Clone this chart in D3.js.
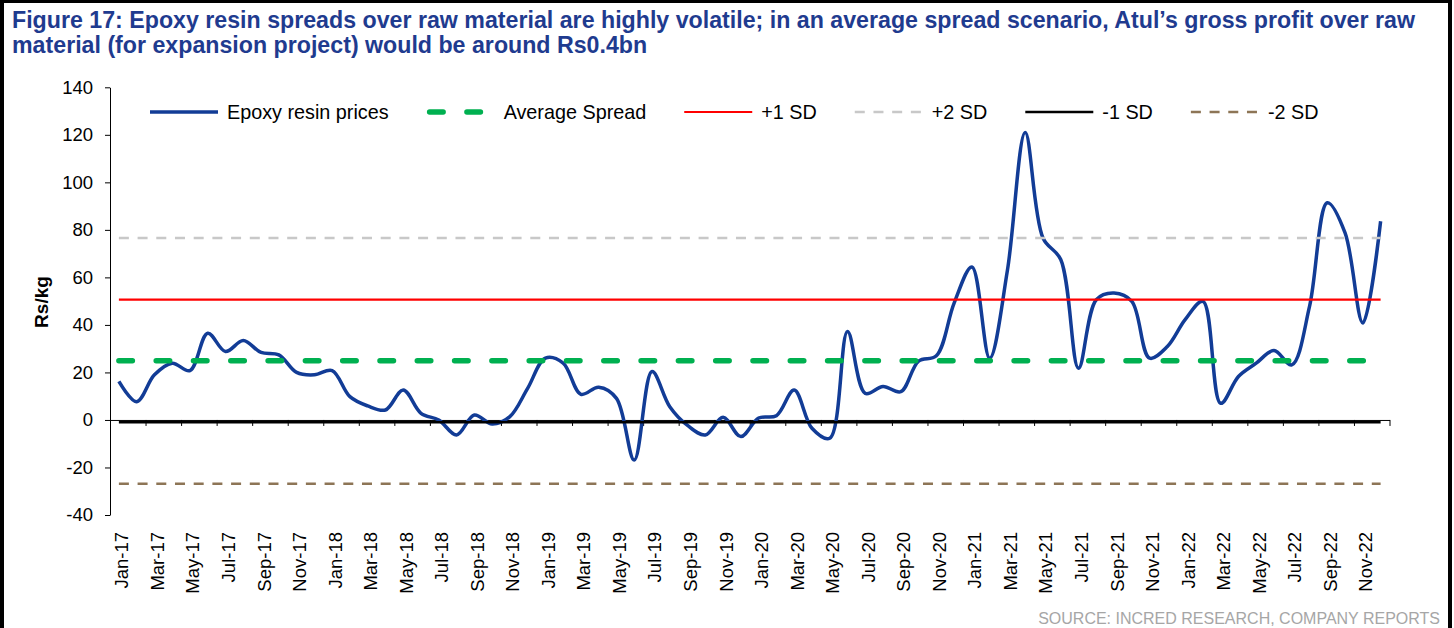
<!DOCTYPE html>
<html lang="en">
<head>
<meta charset="utf-8">
<title>Figure 17</title>
<script src="https://d3js.org/d3.v7.min.js"></script>
<style>
  body { margin: 0; background: #fff; }
  svg { display: block; font-family: "Liberation Sans", Arial, sans-serif; }
</style>
</head>
<body>
<script>

// ---- data ----
var months = d3.timeMonths(new Date(2017, 0, 1), new Date(2023, 0, 1)).map(d3.timeFormat("%b-%y"));

var spread = [
  16.2, 7.7, 19, 23.9, 20.8, 36.5, 28.8, 33.4, 28.4, 27.4, 20, 19,     // 2017
  20.8, 9.8, 5.9, 4.2, 12.6, 2.8, 0, -6.3, 2.1, -1.7, 1.4, 13.3,       // 2018
  26, 23.9, 10.8, 13.8, 9.1, -16.9, 20.4, 5.6, -2.3, -6.3, 1.1, -7,    // 2019
  0.8, 1.8, 12.6, -3.5, -7.7, 37.2, 11.2, 14.1, 11.9, 24.8, 27, 49.2,  // 2020
  64.4, 26, 63, 121, 76.6, 67.5, 21.8, 50.6, 53.4, 49.9, 26, 30.9,     // 2021
  42.2, 49.9, 7, 18.3, 23.9, 29.2, 23.2, 47.8, 91.4, 78.7, 40.8, 83.6  // 2022
];

var refNames  = ["Average Spread", "+1 SD", "+2 SD", "-1 SD", "-2 SD"];
var refValues = [24.9, 50.6, 76.6, -1.0, -26.9];

var yTicks = [-40, -20, 0, 20, 40, 60, 80, 100, 120, 140];

var title1 = "Figure 17: Epoxy resin spreads over raw material are highly volatile; in an average spread scenario, Atul\u2019s gross profit over raw";
var title2 = "material (for expansion project) would be around Rs0.4bn";

// ---- styles ----
var lineStyle = {
  "Epoxy resin prices": {color: "#123c96", width: 3.5, dash: null, cap: "butt"},
  "Average Spread":     {color: "#00b050", width: 5.5, dash: "13.5 23.8", cap: "round"},
  "+1 SD":              {color: "#ff0000", width: 2.2, dash: null, cap: "butt"},
  "+2 SD":              {color: "#c8c8c8", width: 2.5, dash: "10 8.7", cap: "butt"},
  "-1 SD":              {color: "#000000", width: 2.5, dash: null, cap: "butt"},
  "-2 SD":              {color: "#8d7556", width: 2.5, dash: "10 8.7", cap: "butt"}
};

var w = 1454, h = 628;

var svg = d3.select("body").append("svg")
    .attr("width", w)
    .attr("height", h);

// frame
svg.append("rect")
    .attr("x", 2).attr("y", 1)
    .attr("width", 1448).attr("height", 660)
    .attr("fill", "none")
    .attr("stroke", "#000")
    .attr("stroke-width", 4);

// title
svg.append("text").attr("x", 12).attr("y", 28).text(title1)
    .attr("font-size", 23.2).attr("font-weight", "bold").attr("fill", "#1f3b8f");
svg.append("text").attr("x", 12).attr("y", 53).text(title2)
    .attr("font-size", 23.2).attr("font-weight", "bold").attr("fill", "#1f3b8f");

// scales
var x = d3.scaleLinear().domain([0, months.length]).range([110, 1389.5]);
var y = d3.scaleLinear().domain([-40, 140]).range([515, 87.3]);

// y axis
var yAxis = svg.append("g")
    .attr("transform", "translate(110,0)")
    .call(d3.axisLeft(y).tickValues(yTicks).tickSize(5).tickSizeOuter(0).tickPadding(12).tickFormat(d => String(d)));
yAxis.selectAll("text").attr("font-size", 18.5).attr("font-family", "Liberation Sans, Arial, sans-serif").attr("fill", "#000");
yAxis.selectAll("line, path").attr("stroke", "#000");

svg.append("text")
    .attr("transform", "translate(48,302) rotate(-90)")
    .attr("text-anchor", "middle")
    .attr("font-size", 19).attr("font-weight", "bold")
    .text("Rs/kg");

// x axis at zero, ticks between every second month
var xAxis = svg.append("g")
    .attr("transform", "translate(0," + y(0) + ")")
    .call(d3.axisBottom(x).tickValues(d3.range(0, months.length + 1, 2)).tickSize(6).tickSizeOuter(0).tickFormat(""));
xAxis.selectAll("line, path").attr("stroke", "#000");

svg.append("g").selectAll("text")
    .data(months.filter((m, i) => i % 2 == 0))
    .enter().append("text")
    .attr("transform", (d, i) => "translate(" + (x(i * 2 + 0.5) + 3) + ",532) rotate(-90)")
    .attr("text-anchor", "end")
    .attr("dy", "0.35em")
    .attr("font-size", 18.5)
    .text(d => d);

// epoxy line
var line = d3.line()
    .x((d, i) => x(i + 0.5))
    .y(d => y(d))
    .curve(d3.curveCatmullRom.alpha(0.5));

var st = lineStyle["Epoxy resin prices"];
svg.append("path")
    .datum(spread)
    .attr("d", line)
    .attr("fill", "none")
    .attr("stroke", st.color)
    .attr("stroke-width", st.width)
    .attr("stroke-linejoin", "round");

// reference lines
svg.append("g").selectAll("line")
    .data(refNames)
    .enter().append("line")
    .attr("x1", x(0.5)).attr("x2", x(months.length - 0.5))
    .attr("y1", (d, i) => y(refValues[i])).attr("y2", (d, i) => y(refValues[i]))
    .attr("stroke", d => lineStyle[d].color)
    .attr("stroke-width", d => lineStyle[d].width)
    .attr("stroke-dasharray", d => lineStyle[d].dash)
    .attr("stroke-linecap", d => lineStyle[d].cap);

// legend
var legendNames = ["Epoxy resin prices"].concat(refNames);
var lx = 150, ly = 112;
legendNames.forEach(function(name) {
  var s = lineStyle[name];
  svg.append("line")
      .attr("x1", lx + (s.cap == "round" ? 3 : 0)).attr("x2", lx + 68)
      .attr("y1", ly).attr("y2", ly)
      .attr("stroke", s.color)
      .attr("stroke-width", s.width)
      .attr("stroke-dasharray", s.dash)
      .attr("stroke-linecap", s.cap);
  var t = svg.append("text")
      .attr("x", lx + 77).attr("y", ly)
      .attr("dy", "0.35em")
      .attr("font-size", 19.8)
      .text(name);
  lx = lx + 77 + t.node().getComputedTextLength() + 38;
});

// source
svg.append("text")
    .attr("x", 1440).attr("y", 624)
    .attr("text-anchor", "end")
    .attr("font-size", 16)
    .attr("fill", "#a6a6a6")
    .text("SOURCE: INCRED RESEARCH, COMPANY REPORTS");

</script>
</body>
</html>
